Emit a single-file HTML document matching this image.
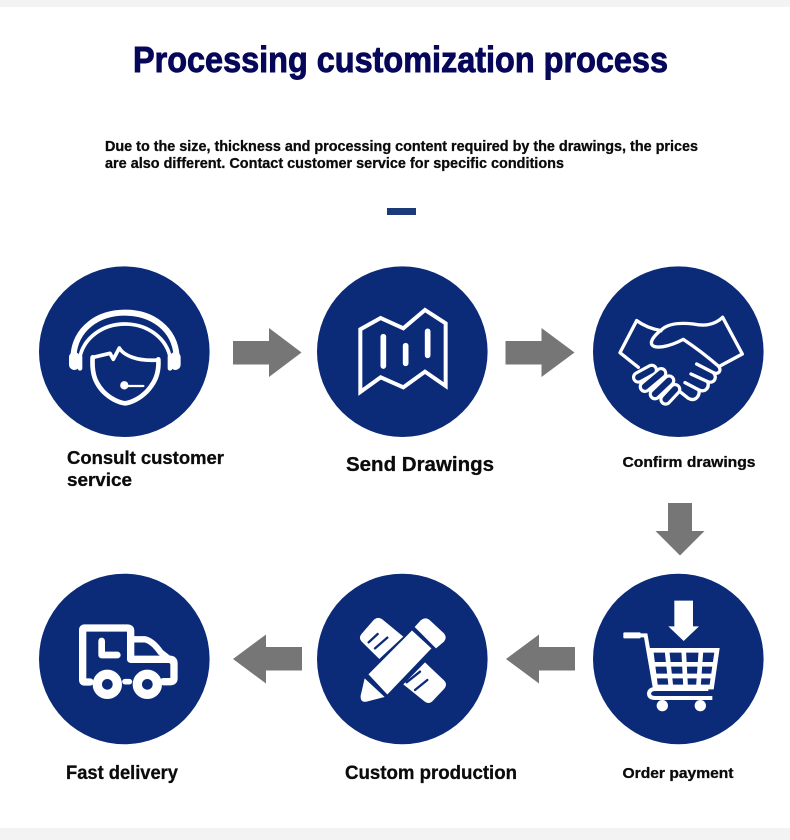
<!DOCTYPE html>
<html><head><meta charset="utf-8"><style>
html,body{margin:0;padding:0;background:#fff}
svg{display:block}
text{font-family:"Liberation Sans",sans-serif;font-weight:bold;fill:#0b0b0b;stroke:#0b0b0b;stroke-width:.3px}
</style></head><body>
<svg width="790" height="840" viewBox="0 0 790 840" xmlns="http://www.w3.org/2000/svg">
<rect width="790" height="840" fill="#fff"/>
<rect width="790" height="7" fill="#f3f3f3"/>
<rect y="828" width="790" height="12" fill="#f3f3f3"/>
<text x="133" y="72" font-size="36" textLength="535" lengthAdjust="spacingAndGlyphs" style="fill:#07075a;stroke:#07075a;stroke-width:.9px">Processing customization process</text>
<text x="105" y="151" font-size="15" textLength="593" lengthAdjust="spacingAndGlyphs">Due to the size, thickness and processing content required by the drawings, the prices</text>
<text x="105" y="168" font-size="15" textLength="459" lengthAdjust="spacingAndGlyphs">are also different. Contact customer service for specific conditions</text>
<rect x="387" y="208" width="29" height="7" fill="#1a3a7a"/>

<g fill="#0b2a78">
<circle cx="124.3" cy="351.7" r="85.3"/><circle cx="402.3" cy="351.7" r="85.3"/><circle cx="678.3" cy="351.7" r="85.3"/>
<circle cx="124.3" cy="659" r="85.3"/><circle cx="402.3" cy="659" r="85.3"/><circle cx="678.3" cy="659" r="85.3"/>
</g>

<g fill="#767676">
<polygon points="233,341 269,341 269,328 301.500,352.500 269,377 269,364.500 233,364.500"/>
<polygon points="505.500,341 541.500,341 541.500,328 574.500,352.500 541.500,377 541.500,364.500 505.500,364.500"/>
<polygon points="668,503 692,503 692,531 704.500,531 680,555.500 655.500,531 668,531"/>
<polygon points="302,647 266,647 266,634.500 233,659 266,683.500 266,670.500 302,670.500"/>
<polygon points="575,647 539,647 539,634.500 506,659 539,683.500 539,670.500 575,670.500"/>
</g>

<!-- headset -->
<g transform="translate(30,260) scale(.3333)" fill="none" stroke="#fff" stroke-linecap="round" stroke-linejoin="round">
<path d="M130,290 C135,205 205,158 285,158 C365,158 435,205 440,290" stroke-width="18"/>
<path d="M148,300 C158,232 220,192 285,192 C350,192 412,232 422,300" stroke-width="11"/>
<path d="M133,292 V314 M436,292 V314" stroke-width="32"/>
<path d="M150,290 V325 M420,290 V325" stroke-width="14"/>
<path d="M190,292 L240,280 L250,298 L268,264 C280,285 320,305 384,300" stroke-width="11"/>
<path d="M188,292 C185,340 195,368 220,395 C240,415 265,428 285,430 C305,428 330,415 350,395 C375,368 388,340 385,298" stroke-width="14"/>
<path d="M285,378 H340" stroke-width="7"/>
<circle cx="283" cy="376" r="9" fill="#fff" stroke-width="7"/>
</g>

<!-- map -->
<g transform="translate(310,260) scale(.3333)" fill="none" stroke="#fff">
<path d="M151,396 V208 L212,174 L280,205 L345,150 L407,190 V378 L345,335 L280,382 L212,352 Z" stroke-width="12" stroke-linejoin="miter"/>
<path d="M220,230 V318 M287,257 V310 M353,214 V286" stroke-width="17" stroke-linecap="round"/>
</g>

<!-- handshake -->
<g transform="translate(585,260) scale(.3333)" fill="none" stroke-linecap="round" stroke-linejoin="round">
<g stroke="#fff" stroke-width="10">
<path d="M155,182 L105,278 L160,322"/>
<path d="M155,182 C180,200 205,208 228,212"/>
<path d="M413,172 L472,282 L405,318"/>
<path d="M413,172 C385,198 355,198 325,192 C290,188 255,190 235,205 C215,220 195,240 200,253 C208,268 250,262 295,238 C325,258 370,292 400,318 C412,332 400,345 385,338 L335,312"/>
<path d="M385,338 C398,352 388,372 368,365 L318,342"/>
<path d="M368,365 C375,385 358,398 342,390 L300,368"/>
<path d="M342,390 C345,412 328,425 310,415 L285,395"/>
</g>
<path d="M200,330 L160,352 M228,340 L180,380 M252,362 L210,402 M270,388 L242,418" stroke="#fff" stroke-width="38"/>
<path d="M200,330 L160,352 M228,340 L180,380 M252,362 L210,402 M270,388 L242,418" stroke="#0b2a78" stroke-width="19"/>
</g>

<!-- cart -->
<g transform="translate(585,565) scale(.3333)">
<polygon points="268,107 324,107 324,184 342,184 296,228 250,184 268,184" fill="#fff"/>
<rect x="115" y="202" width="52" height="18" rx="3" fill="#fff"/>
<g fill="none" stroke="#fff">
<path d="M165,211 H182 L210,372" stroke-width="12"/>
<path d="M198,256 H396 L380,366 H212 Z" stroke-width="14"/>
<path d="M246,256 L258,368 M296,256 L302,368 M348,256 L340,368 M204,298 H392 M210,333 H386" stroke-width="14"/>
<path d="M382,399 H212 Q192,399 192,385 Q194,372 212,372 H370" stroke-width="12"/>
</g>
<circle cx="232" cy="422" r="17" fill="#fff"/><circle cx="346" cy="422" r="17" fill="#fff"/>
</g>

<!-- pencil & ruler -->
<g transform="translate(310,565) scale(.3333)">
<path d="M156,205 L190,166 Q204,152 218,164 L280,215 L208,282 L155,230 Q144,218 156,205 Z" fill="#fff"/>
<path d="M345,292 L402,346 Q414,358 402,372 L368,408 Q356,420 342,408 L280,358 Z" fill="#fff"/>
<path d="M176,232 L203,207 M195,250 L232,218" stroke="#0b2a78" stroke-width="7" stroke-linecap="round"/>
<path d="M290,352 L330,320 M315,375 L352,345" stroke="#0b2a78" stroke-width="7" stroke-linecap="round"/>
<polygon points="172,328 306,193 368,250 232,392" fill="#fff" stroke="#0b2a78" stroke-width="5" stroke-linejoin="round"/>
<path d="M314,186 L332,166 Q347,154 360,166 L402,205 Q412,218 402,230 L378,250 Z" fill="#fff"/>
<path d="M164,340 L224,396 L170,410 Q150,414 152,392 Z" fill="#fff"/>
</g>

<!-- truck -->
<g transform="translate(30,565) scale(.3333)" fill="none" stroke="#fff" stroke-linejoin="round" stroke-linecap="round">
<path d="M180,351 H164 Q158,351 158,345 V195 Q158,189 164,189 H292 Q302,189 302,197 V283 H420 Q432,283 432,295 V340 Q432,350 422,350 H400" stroke-width="22"/>
<path d="M302,223 H345 Q368,228 392,262 L425,288" stroke-width="19"/>
<path d="M215,228 V270 H262" stroke-width="20"/>
<path d="M285,350 H298" stroke-width="17"/>
<circle cx="232" cy="358" r="30" stroke-width="28"/>
<circle cx="352" cy="358" r="30" stroke-width="28"/>
</g>

<text x="67" y="464" font-size="18.500" textLength="157" lengthAdjust="spacingAndGlyphs">Consult customer</text>
<text x="67" y="486" font-size="18.500" textLength="65" lengthAdjust="spacingAndGlyphs">service</text>
<text x="346" y="471" font-size="20" textLength="148" lengthAdjust="spacingAndGlyphs">Send Drawings</text>
<text x="622.500" y="467" font-size="15" textLength="133" lengthAdjust="spacingAndGlyphs">Confirm drawings</text>
<text x="66" y="779" font-size="19" textLength="112" lengthAdjust="spacingAndGlyphs">Fast delivery</text>
<text x="345" y="779" font-size="19" textLength="172" lengthAdjust="spacingAndGlyphs">Custom production</text>
<text x="622.500" y="778" font-size="15" textLength="111" lengthAdjust="spacingAndGlyphs">Order payment</text>
</svg>
</body></html>
